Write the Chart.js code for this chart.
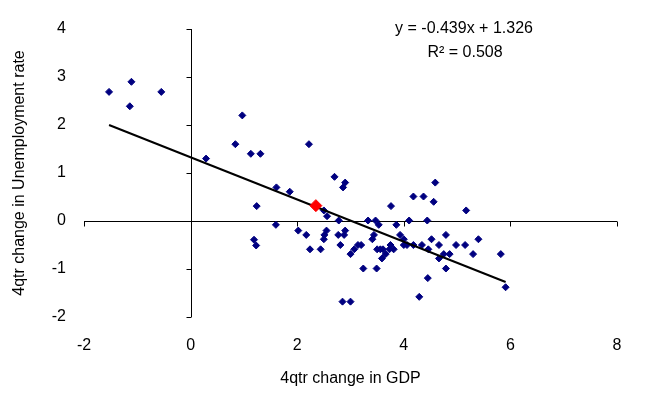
<!DOCTYPE html>
<html lang="en">
<head>
  <meta charset="UTF-8">
  <title>GDP vs Unemployment</title>
  <style>
    html, body {
      margin: 0;
      padding: 0;
      background: #ffffff;
    }
    #wrap {
      width: 650px;
      height: 397px;
    }
  </style>
</head>
<body>

  <div id="wrap">
    <canvas id="okunChart" width="650" height="397"></canvas>
  </div>

  <script src="https://cdn.jsdelivr.net/npm/chart.js"></script>

  <script>
    // 4qtr change in GDP (x) and 4qtr change in unemployment rate (y)
    const gdpChange = [
      -1.53, -1.11, -1.14, -0.55, 0.29, 0.84, 0.97, 1.13, 1.31, 2.22,
      1.61, 1.86, 1.24, 1.60, 2.02, 2.17, 1.19, 1.23, 2.70, 2.90,
      2.86, 2.50, 2.56, 2.78, 3.33, 3.47, 2.55, 2.51, 2.50, 2.77,
      2.90, 2.88, 2.81, 2.24, 2.44, 3.14, 3.20, 3.07, 3.00, 3.24,
      2.85, 3.00, 4.59, 4.18, 4.37, 4.56, 3.76, 5.17, 3.53, 3.86,
      4.10, 4.44, 3.44, 3.41, 3.93, 4.00, 4.52, 4.79, 5.40, 3.75,
      4.00, 4.06, 4.18, 4.34, 4.66, 4.98, 5.15, 3.50, 3.56, 3.61,
      3.73, 3.81, 4.46, 4.75, 4.86, 3.66, 5.30, 5.82, 4.66, 3.59,
      3.49, 4.79, 4.45, 5.91, 4.29
    ];
    const unempChange = [
      2.69, 2.90, 2.39, 2.69, 1.30, 1.60, 2.20, 1.40, 1.40, 1.60,
      0.70, 0.61, 0.31, -0.08, -0.20, -0.29, -0.39, -0.51, 0.92, 0.80,
      0.70, 0.22, 0.10, 0.01, 0.01, 0.01, -0.20, -0.29, -0.38, -0.29,
      -0.20, -0.29, -0.50, -0.59, -0.59, -0.50, -0.50, -0.59, -0.69, -0.99,
      -1.68, -1.68, 0.80, 0.51, 0.51, 0.40, 0.31, 0.22, -0.08, -0.08,
      0.01, 0.01, -0.29, -0.38, -0.29, -0.38, -0.38, -0.29, -0.38, -0.50,
      -0.50, -0.50, -0.50, -0.50, -0.50, -0.50, -0.50, -0.59, -0.59, -0.59,
      -0.59, -0.59, -0.59, -0.69, -0.69, -0.69, -0.69, -0.69, -0.78, -0.78,
      -0.99, -0.99, -1.19, -1.38, -1.58
    ];

    // highlighted (latest) observation
    const latestX = [2.35];
    const latestY = [0.32];

    // linear trend end points
    const trendX = [-1.53, 5.91];
    const trendY = [2.00, -1.27];

    const xTicks = [-2, 0, 2, 4, 6, 8];
    const yTicks = [-2, -1, 0, 1, 2, 3, 4];

    const equationText = "y = -0.439x + 1.326";
    const rSquaredText = "R\u00B2 = 0.508";

    const fontFamily = "'Liberation Sans', Arial, sans-serif";

    function toPoints(xs, ys) {
      return xs.map((x, i) => ({ x: x, y: ys[i] }));
    }

    // axes that cross at zero, with tick marks
    const zeroAxes = {
      id: "zeroAxes",
      beforeDatasetsDraw(chart) {
        const ctx = chart.ctx;
        const xs = chart.scales.x;
        const ys = chart.scales.y;
        const y0 = Math.round(ys.getPixelForValue(0)) + 0.5;
        const x0 = Math.round(xs.getPixelForValue(0)) + 0.5;
        ctx.save();
        ctx.strokeStyle = "#000000";
        ctx.lineWidth = 1;
        ctx.beginPath();
        ctx.moveTo(xs.getPixelForValue(xTicks[0]), y0);
        ctx.lineTo(xs.getPixelForValue(xTicks[xTicks.length - 1]), y0);
        xTicks.forEach(v => {
          const px = Math.round(xs.getPixelForValue(v)) + 0.5;
          ctx.moveTo(px, y0);
          ctx.lineTo(px, y0 + 5);
        });
        ctx.moveTo(x0, ys.getPixelForValue(yTicks[0]));
        ctx.lineTo(x0, ys.getPixelForValue(yTicks[yTicks.length - 1]));
        yTicks.forEach(v => {
          const py = Math.round(ys.getPixelForValue(v)) + 0.5;
          ctx.moveTo(x0, py);
          ctx.lineTo(x0 - 5, py);
        });
        ctx.stroke();
        ctx.restore();
      },
      afterDraw(chart) {
        const ctx = chart.ctx;
        ctx.save();
        ctx.fillStyle = "#000000";
        ctx.font = "16px " + fontFamily;
        ctx.textAlign = "center";
        ctx.textBaseline = "middle";
        ctx.fillText(equationText, 464, 29);
        ctx.fillText(rSquaredText, 465, 53);
        ctx.restore();
      }
    };

    const ctx = document.getElementById("okunChart").getContext("2d");
    new Chart(ctx, {
      type: "scatter",
      data: {
        datasets: [
          {
            label: "Observations",
            data: toPoints(gdpChange, unempChange),
            pointStyle: "rectRot",
            pointRadius: 3.5,
            pointHoverRadius: 3.5,
            backgroundColor: "#000080",
            borderColor: "#000080",
            borderWidth: 1,
            order: 3
          },
          {
            label: "Linear trend",
            data: toPoints(trendX, trendY),
            showLine: true,
            borderColor: "#000000",
            borderWidth: 2,
            pointRadius: 0,
            fill: false,
            order: 2
          },
          {
            label: "Latest",
            data: toPoints(latestX, latestY),
            pointStyle: "rectRot",
            pointRadius: 6,
            pointHoverRadius: 6,
            backgroundColor: "#ff0000",
            borderColor: "#ff0000",
            borderWidth: 1,
            order: 1
          }
        ]
      },
      options: {
        responsive: false,
        animation: false,
        layout: {
          padding: { top: 29, right: 33, left: 0, bottom: 0 }
        },
        scales: {
          x: {
            type: "linear",
            min: -2,
            max: 8,
            afterBuildTicks: scale => {
              scale.ticks = xTicks.map(v => ({ value: v }));
            },
            grid: { display: false, drawTicks: false },
            border: { display: false },
            ticks: {
              color: "#000000",
              padding: 19,
              font: { family: fontFamily, size: 16 }
            },
            title: {
              display: true,
              text: "4qtr change in GDP",
              color: "#000000",
              padding: 9,
              font: { family: fontFamily, size: 16, lineHeight: 1.2 }
            },
            afterFit: scale => { scale.height = 80; }
          },
          y: {
            type: "linear",
            min: -2,
            max: 4,
            afterBuildTicks: scale => {
              scale.ticks = yTicks.map(v => ({ value: v }));
            },
            grid: { display: false, drawTicks: false },
            border: { display: false },
            ticks: {
              color: "#000000",
              padding: 18,
              font: { family: fontFamily, size: 16 }
            },
            title: {
              display: true,
              text: "4qtr change in Unemployment rate",
              color: "#000000",
              padding: 10,
              font: { family: fontFamily, size: 16, lineHeight: 1.2 }
            },
            afterFit: scale => { scale.width = 84; }
          }
        },
        plugins: {
          legend: { display: false },
          tooltip: { enabled: false }
        }
      },
      plugins: [zeroAxes]
    });
  </script>

</body>
</html>
